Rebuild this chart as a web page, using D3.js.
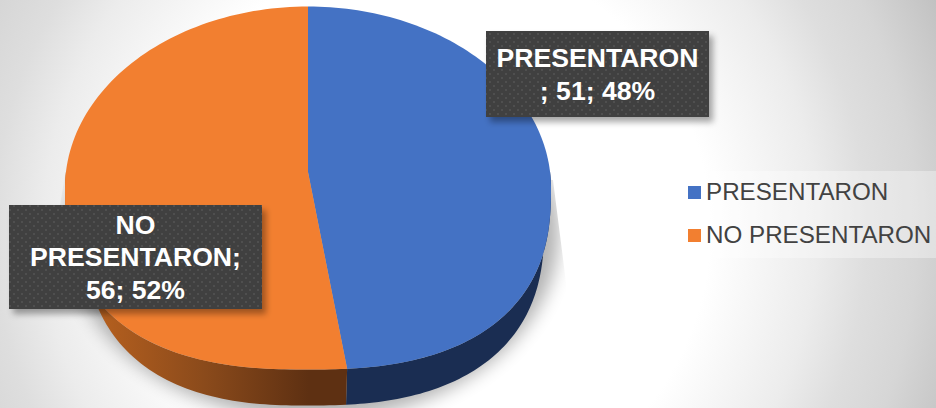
<!DOCTYPE html>
<html><head><meta charset="utf-8">
<style>html,body{margin:0;padding:0;background:#fff}svg{display:block}text{font-family:"Liberation Sans",Arial,sans-serif}</style>
<script src="https://cdn.jsdelivr.net/npm/d3@7/dist/d3.min.js"></script></head>
<body><svg id="c" width="936" height="408"></svg>
<script>
const categories=["PRESENTARON","NO PRESENTARON"];
const values=[51,56];
const percents=["48%","52%"];
const topColors=["#4472C4","#F27F30"];
const sideColors=["#1A2D52","#6B3614"];
const labelLines=[["PRESENTARON","; 51; 48%"],["NO","PRESENTARON;","56; 52%"]];

const svg=d3.select("#c");
const W=936,H=408,cx=308,cy=188,rx=243,ry=181.5,depth=36,apex=-0.088,bulge=2.5,wallNarrowR=0.972,wallNarrowL=0.92;
const defs=svg.append("defs");
const bg=defs.append("radialGradient").attr("id","bg").attr("gradientUnits","userSpaceOnUse")
 .attr("cx",430).attr("cy",230).attr("r",560);
[[0,"#ffffff"],[0.5,"#ffffff"],[0.69,"#ececec"],[0.78,"#dedede"],[0.87,"#d6d6d6"],[0.95,"#c9c9c9"],[1,"#c0c0c0"]]
 .forEach(d=>bg.append("stop").attr("offset",d[0]).attr("stop-color",d[1]));
const blur=defs.append("filter").attr("id","blur").attr("x","-20%").attr("y","-20%").attr("width","140%").attr("height","140%");
blur.append("feGaussianBlur").attr("stdDeviation",9);
const ds=defs.append("filter").attr("id","ds").attr("x","-10%").attr("y","-20%").attr("width","125%").attr("height","150%");
ds.append("feDropShadow").attr("dx",4).attr("dy",5).attr("stdDeviation",3).attr("flood-color","#000").attr("flood-opacity",0.35);
const pat=defs.append("pattern").attr("id","dots").attr("width",8).attr("height",8).attr("patternUnits","userSpaceOnUse");
pat.append("rect").attr("width",8).attr("height",8).attr("fill","#3f3f3f");
pat.append("rect").attr("x",1).attr("y",1).attr("width",2).attr("height",2).attr("fill","#4f4f4f");
pat.append("rect").attr("x",5).attr("y",5).attr("width",2).attr("height",2).attr("fill","#4f4f4f");
const sideL=defs.append("linearGradient").attr("id","sideOrange").attr("gradientUnits","userSpaceOnUse")
 .attr("x1",90).attr("x2",347).attr("y1",0).attr("y2",0);
[[0,"#B8611F"],[0.45,"#8A4A1B"],[0.85,"#5E3012"],[1,"#5E3012"]].forEach(d=>sideL.append("stop").attr("offset",d[0]).attr("stop-color",d[1]));
defs.append("clipPath").attr("id","shClip").append("path")
 .attr("d","M72,130 L40,330 L40,408 L640,408 L567,290 L553,180 Z");

svg.append("rect").attr("width",W).attr("height",H).attr("fill","url(#bg)");

const pie=d3.pie().sort(null).value(d=>d)(values);
const sx=d3.scaleLinear().domain([-1,1]).range([cx-rx,cx+rx]);
const sy=d3.scaleLinear().domain([-1,1]).range([cy-ry,cy+ry]);
// perspective: a pie angle -> normalised point on the tilted disc's rim
function rim(t){
  const u=Math.sin(t),v=-Math.cos(t),den=1+v*apex;
  let x=u*Math.sqrt(1-apex*apex)/den,y=(v+apex)/den;
  if(y>0){const s=Math.pow(Math.pow(Math.abs(x),bulge)+Math.pow(y,bulge),-1/bulge);x*=s;y*=s;}
  return [x,y];
}
const line=d3.line();
const apexPt=[sx(0),sy(apex)];
const topPath=d=>{
  const n=120,pts=[apexPt];
  for(let i=0;i<=n;i++){const p=rim(d.startAngle+(d.endAngle-d.startAngle)*i/n);pts.push([sx(p[0]),sy(p[1])]);}
  return line(pts)+"Z";
};
const wall=d=>{
  const s=Math.max(d.startAngle,Math.PI/2),e=Math.min(d.endAngle,Math.PI*1.5);
  if(e<=s) return null;
  const n=80,pts=[];
  for(let i=0;i<=n;i++){const p=rim(s+(e-s)*i/n);pts.push([sx(p[0]),sy(p[1])]);}
  for(let i=n;i>=0;i--){const p=rim(s+(e-s)*i/n);pts.push([sx(p[0]*(p[0]<0?wallNarrowL:wallNarrowR)),sy(p[1])+depth]);}
  return line(pts)+"Z";
};
// shadow
svg.append("g").attr("clip-path","url(#shClip)").append("ellipse")
 .attr("cx",cx+5).attr("cy",cy+44).attr("rx",rx+3).attr("ry",ry+6)
 .attr("fill","#000").attr("opacity",0.3).attr("filter","url(#blur)");
const g=svg.append("g");
g.selectAll("path.wall").data(pie).join("path").attr("class","wall")
 .attr("d",wall).attr("fill",(d,i)=>i===1?"url(#sideOrange)":sideColors[i]);
g.selectAll("path.top").data(pie).join("path").attr("class","top")
 .attr("d",topPath).attr("fill",(d,i)=>topColors[i]);

// data labels
const boxes=[{x:486,y:31,w:223,h:86},{x:9,y:205,w:253,h:104}];
const baselines=[[67,100],[234,266,299]];
boxes.forEach((b,i)=>{
  svg.append("rect").attr("x",b.x).attr("y",b.y).attr("width",b.w).attr("height",b.h).attr("fill","url(#dots)").attr("filter","url(#ds)");
  labelLines[i].forEach((t,j)=>svg.append("text").attr("x",b.x+b.w/2).attr("y",baselines[i][j]).attr("text-anchor","middle")
    .attr("font-size",26.6).attr("font-weight","bold").attr("fill","#fff").text(t));
});
// legend
svg.append("rect").attr("x",676).attr("y",171).attr("width",260).attr("height",87).attr("fill","#fff").attr("opacity",0.35);
const ly=[192,235];
categories.forEach((c,i)=>{
  svg.append("rect").attr("x",688).attr("y",ly[i]-6).attr("width",13).attr("height",13).attr("fill",topColors[i]);
  svg.append("text").attr("x",706).attr("y",ly[i]+8).attr("font-size",24.2).attr("fill","#424242").text(c);
});
</script></body></html>
